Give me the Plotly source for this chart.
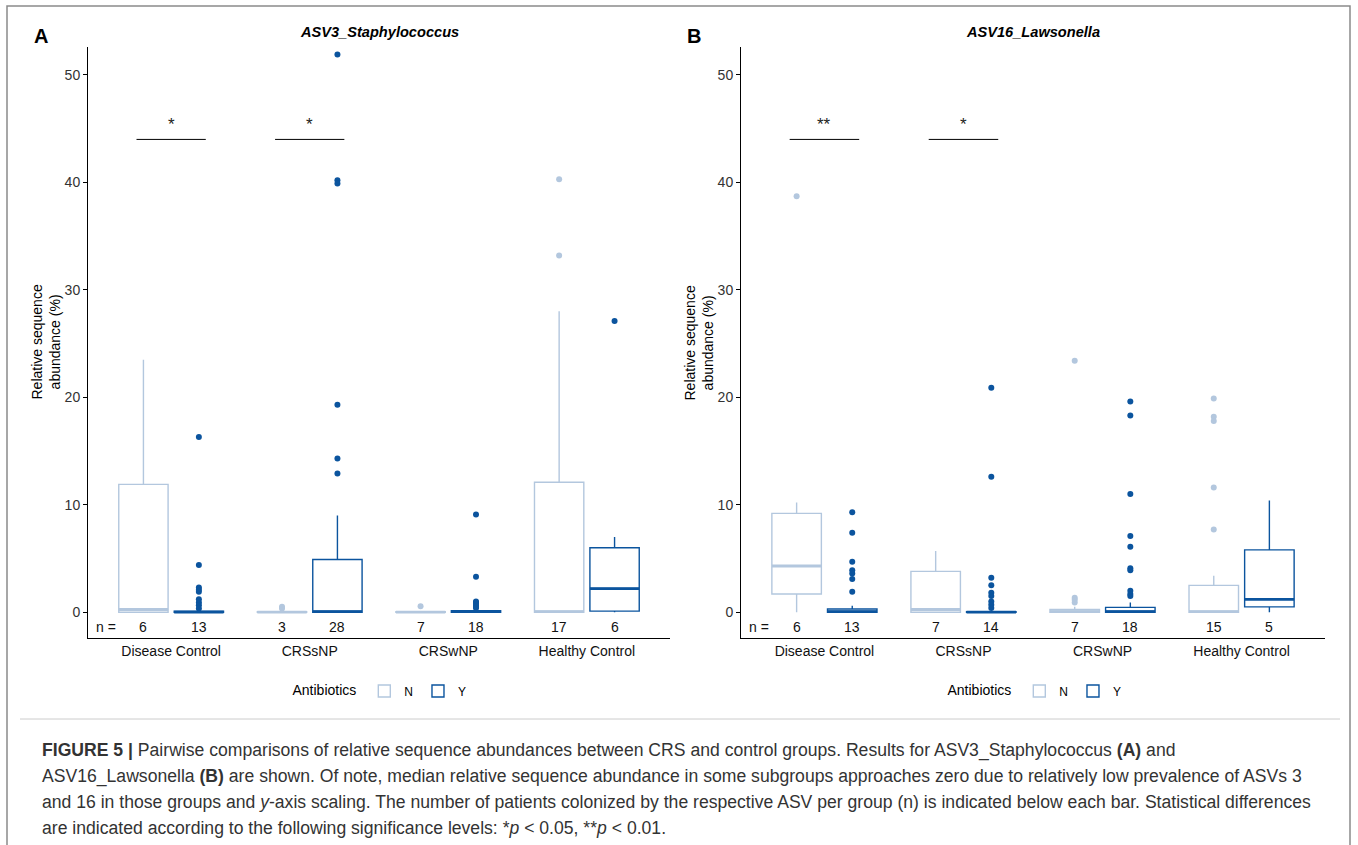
import plotly.graph_objects as go

categories = ["Disease Control", "CRSsNP", "CRSwNP", "Healthy Control"]

# Panel A: ASV3_Staphylococcus
A_N_q1 = [0, 0, 0, 0]
A_N_med = [0.25, 0, 0, 0.05]
A_N_q3 = [11.9, 0.05, 0.05, 12.1]
A_N_lo = [0, 0, 0, 0]
A_N_hi = [23.5, 0.1, 0.1, 28.0]
A_N_out = [[], [0.5, 0.35], [0.55], [40.3, 33.2]]

A_Y_q1 = [0, 0, 0, 0.1]
A_Y_med = [0, 0.05, 0.05, 2.2]
A_Y_q3 = [0.1, 4.9, 0.15, 6.0]
A_Y_lo = [0, 0, 0, 0]
A_Y_hi = [0.15, 9.0, 0.3, 7.0]
A_Y_out = [[16.3, 4.4, 2.3, 2.1, 1.9, 1.2, 0.9, 0.65, 0.35],
           [51.9, 40.2, 39.9, 19.3, 14.3, 12.9],
           [9.1, 3.3, 1.0, 0.9, 0.8, 0.65, 0.5, 0.4],
           [27.1]]

# Panel B: ASV16_Lawsonella
B_N_q1 = [1.7, 0, 0, 0]
B_N_med = [4.3, 0.25, 0.05, 0.05]
B_N_q3 = [9.2, 3.8, 0.25, 2.5]
B_N_lo = [0, 0, 0, 0]
B_N_hi = [10.2, 5.7, 0.5, 3.4]
B_N_out = [[38.7], [], [23.4, 1.35, 1.15, 0.9], [19.9, 18.2, 17.8, 11.6, 7.7]]

B_Y_q1 = [0, 0, 0, 0.5]
B_Y_med = [0.05, 0, 0.05, 1.2]
B_Y_q3 = [0.3, 0.05, 0.45, 5.8]
B_Y_lo = [0, 0, 0, 0]
B_Y_hi = [0.6, 0.1, 0.9, 10.4]
B_Y_out = [[9.3, 7.4, 4.7, 3.9, 3.6, 3.1, 1.9],
           [20.9, 12.6, 3.2, 2.5, 1.8, 1.5, 1.0, 0.7, 0.4],
           [19.6, 18.3, 11.0, 7.1, 6.1, 4.1, 3.9, 2.0, 1.7, 1.5],
           []]

A_n_N = [6, 3, 7, 17]
A_n_Y = [13, 28, 18, 6]
B_n_N = [6, 7, 7, 15]
B_n_Y = [13, 14, 18, 5]

A_sig = [("Disease Control", "*"), ("CRSsNP", "*")]
B_sig = [("Disease Control", "**"), ("CRSsNP", "*")]
sig_y = 44.0

titles = ["ASV3_Staphylococcus", "ASV16_Lawsonella"]
panel_letters = ["A", "B"]
y_title = "Relative sequence<br>abundance (%)"

COL_N = "#B3C7DE"
COL_Y = "#0B549E"
FONT = "Liberation Sans, Arial, sans-serif"

fig = go.Figure()

panels = [
    dict(ax="x", ay="y", legend="legend",
         N=(A_N_q1, A_N_med, A_N_q3, A_N_lo, A_N_hi, A_N_out),
         Y=(A_Y_q1, A_Y_med, A_Y_q3, A_Y_lo, A_Y_hi, A_Y_out),
         nN=A_n_N, nY=A_n_Y, sig=A_sig),
    dict(ax="x2", ay="y2", legend="legend2",
         N=(B_N_q1, B_N_med, B_N_q3, B_N_lo, B_N_hi, B_N_out),
         Y=(B_Y_q1, B_Y_med, B_Y_q3, B_Y_lo, B_Y_hi, B_Y_out),
         nN=B_n_N, nY=B_n_Y, sig=B_sig),
]

for p in panels:
    for name, col in (("N", COL_N), ("Y", COL_Y)):
        q1, med, q3, lo, hi, out = p[name]
        fig.add_trace(go.Box(
            x=categories, q1=q1, median=med, q3=q3,
            lowerfence=lo, upperfence=hi,
            name=name, legend=p["legend"], legendgroup=p["legend"] + name,
            offsetgroup=name, boxpoints=False,
            line=dict(color=col, width=1.4),
            fillcolor="rgba(255,255,255,0)",
            whiskerwidth=0,
            xaxis=p["ax"], yaxis=p["ay"], hoverinfo="skip",
        ))
        # thicker median line (ggplot style)
        fig.add_trace(go.Box(
            x=categories, q1=med, median=med, q3=med,
            lowerfence=med, upperfence=med,
            name=name, legend=p["legend"], legendgroup=p["legend"] + name,
            showlegend=False, offsetgroup=name, boxpoints=False,
            line=dict(color=col, width=2.8),
            fillcolor="rgba(255,255,255,0)", whiskerwidth=0,
            xaxis=p["ax"], yaxis=p["ay"], hoverinfo="skip",
        ))
        ox, oy = [], []
        for c, vals in zip(categories, out):
            for v in vals:
                ox.append(c)
                oy.append(v)
        fig.add_trace(go.Scatter(
            x=ox, y=oy, mode="markers", name=name,
            legend=p["legend"], legendgroup=p["legend"] + name, showlegend=False,
            offsetgroup=name,
            marker=dict(color=col, size=6, line=dict(width=0)),
            xaxis=p["ax"], yaxis=p["ay"], hoverinfo="skip",
        ))

annotations = []
shapes = []
dom_x = [[88 / 1358, 670 / 1358], [741 / 1358, 1325 / 1358]]
ydom = [1 - 638 / 845, 1 - 47 / 845]
for i, p in enumerate(panels):
    xr = p["ax"]
    yr = p["ay"]
    annotations.append(dict(x=-0.47, y=-1.4, xref=xr, yref=yr, text="n =",
                            showarrow=False, font=dict(size=14, color="#111")))
    for j, c in enumerate(categories):
        annotations.append(dict(x=j - 0.2, y=-1.4, xref=xr, yref=yr, text=str(p["nN"][j]),
                                showarrow=False, font=dict(size=14, color="#111")))
        annotations.append(dict(x=j + 0.2, y=-1.4, xref=xr, yref=yr, text=str(p["nY"][j]),
                                showarrow=False, font=dict(size=14, color="#111")))
    for c, lab in p["sig"]:
        k = categories.index(c)
        shapes.append(dict(type="line", xref=xr, yref=yr, x0=k - 0.25, x1=k + 0.25,
                           y0=sig_y, y1=sig_y, line=dict(color="black", width=1)))
        annotations.append(dict(x=k, y=sig_y + 0.3, xref=xr, yref=yr, text=lab,
                                xanchor="center", yanchor="bottom", showarrow=False,
                                font=dict(size=17, color="#222")))
    cx = (dom_x[i][0] + dom_x[i][1]) / 2
    annotations.append(dict(x=cx, y=1 - 32 / 845, xref="paper", yref="paper",
                            xanchor="center", yanchor="middle",
                            text="<b><i>" + titles[i] + "</i></b>", showarrow=False,
                            font=dict(size=14.6, color="black")))
    annotations.append(dict(x=dom_x[i][0] - 47 / 1358, y=1 - 36 / 845, xref="paper", yref="paper",
                            xanchor="center", yanchor="middle",
                            text="<b>" + panel_letters[i] + "</b>", showarrow=False,
                            font=dict(size=20, color="black")))
    annotations.append(dict(x=dom_x[i][0] - 42 / 1358, y=(ydom[0] + ydom[1]) / 2,
                            xref="paper", yref="paper", xanchor="center", yanchor="middle",
                            text=y_title, textangle=-90, showarrow=False,
                            font=dict(size=14, color="black")))

caption_lines = [
    "<b>FIGURE 5 |</b> Pairwise comparisons of relative sequence abundances between CRS and control groups. Results for ASV3_Staphylococcus <b>(A)</b> and",
    "ASV16_Lawsonella <b>(B)</b> are shown. Of note, median relative sequence abundance in some subgroups approaches zero due to relatively low prevalence of ASVs 3",
    "and 16 in those groups and <i>y</i>-axis scaling. The number of patients colonized by the respective ASV per group (n) is indicated below each bar. Statistical differences",
    "are indicated according to the following significance levels: *<i>p</i> &lt; 0.05, **<i>p</i> &lt; 0.01.",
]
for k, line in enumerate(caption_lines):
    annotations.append(dict(x=40 / 1358, y=1 - (750 + 26 * k) / 845, xref="paper", yref="paper",
                            text=line, showarrow=False, xanchor="left", yanchor="middle",
                            align="left", font=dict(size=17.6, color="#333")))

shapes.append(dict(type="rect", xref="paper", yref="paper", x0=7 / 1358, x1=1350 / 1358,
                   y0=-0.02, y1=1 - 6 / 845, line=dict(color="#8a8a8a", width=1.5)))
shapes.append(dict(type="line", xref="paper", yref="paper", x0=20 / 1358, x1=1340 / 1358,
                   y0=1 - 719 / 845, y1=1 - 719 / 845, line=dict(color="#cccccc", width=1)))

yaxis_common = dict(range=[-2.4, 52.6], tickvals=[0, 10, 20, 30, 40, 50],
                    showline=True, linecolor="black", linewidth=1, ticks="outside",
                    ticklen=4, tickcolor="black", showgrid=False, zeroline=False,
                    tickfont=dict(size=14, color="#333"))
xaxis_common = dict(type="category", categoryorder="array", categoryarray=categories,
                    range=[-0.6, 3.6], showline=True, linecolor="black", linewidth=1,
                    ticks="", showgrid=False, zeroline=False,
                    tickfont=dict(size=14, color="#111"))

legend_common = dict(orientation="h", xanchor="center", yanchor="middle",
                     title=dict(text="Antibiotics", side="left", font=dict(size=14, color="black")),
                     font=dict(size=12, color="black"), bgcolor="rgba(0,0,0,0)",
                     itemwidth=30, tracegroupgap=0)

fig.update_layout(
    width=1358, height=845,
    margin=dict(l=0, r=0, t=0, b=0),
    paper_bgcolor="white", plot_bgcolor="white",
    font=dict(family=FONT),
    boxmode="group", boxgap=0.2, boxgroupgap=0.11,
    scattermode="group", scattergap=0.2,
    xaxis=dict(domain=dom_x[0], anchor="y", **xaxis_common),
    yaxis=dict(domain=ydom, anchor="x", **yaxis_common),
    xaxis2=dict(domain=dom_x[1], anchor="y2", **xaxis_common),
    yaxis2=dict(domain=ydom, anchor="x2", **yaxis_common),
    legend=dict(x=381 / 1358, y=1 - 691 / 845, **legend_common),
    legend2=dict(x=1036 / 1358, y=1 - 691 / 845, **legend_common),
    annotations=annotations, shapes=shapes,
    showlegend=True,
)

fig.write_html("out.html")
